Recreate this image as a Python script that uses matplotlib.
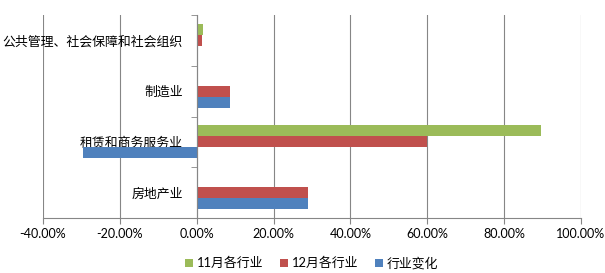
import matplotlib.pyplot as plt
import numpy as np
from matplotlib.ticker import FuncFormatter, FixedLocator

plt.rcParams['font.family'] = ['Lato', 'Noto Sans CJK SC', 'DejaVu Sans']

# categories from bottom to top
categories = ['房地产业', '租赁和商务服务业', '制造业', '公共管理、社会保障和社会组织']
nov = [0.0, 89.5, 0.0, 1.6]       # 11月各行业 (%)
dec = [29.0, 60.0, 8.6, 1.4]      # 12月各行业 (%)
change = [29.0, -29.5, 8.6, 0.0]  # 行业变化 (%)
series_names = ['11月各行业', '12月各行业', '行业变化']
colors = ['#9BBB59', '#C0504D', '#4F81BD']
xticks = [-40, -20, 0, 20, 40, 60, 80, 100]

fig = plt.figure(figsize=(6.05, 2.73), dpi=100)
ax = fig.add_axes([43 / 605, 1 - 218 / 273, (581 - 43) / 605, (218 - 15) / 273])

y = np.arange(len(categories))
h = 0.217
ax.barh(y + h, nov, height=h, color=colors[0], label=series_names[0])
ax.barh(y, dec, height=h, color=colors[1], label=series_names[1])
ax.barh(y - h, change, height=h, color=colors[2], label=series_names[2])

ax.set_xlim(-40, 100)
ax.set_ylim(-0.5, len(categories) - 0.5)
ax.set_xticks(xticks)
ax.xaxis.set_major_formatter(FuncFormatter(lambda v, p: '%.2f%%' % v))
ax.grid(axis='x', color='#868686', linewidth=0.8)
ax.set_axisbelow(True)

# y axis sits at x = 0, category boundaries as tick marks
ax.spines['left'].set_position(('data', 0))
ax.spines['left'].set_color('#868686')
ax.spines['bottom'].set_color('#868686')
ax.spines['top'].set_visible(False)
ax.spines['right'].set_visible(False)
ax.set_yticks(y)
ax.set_yticklabels(categories, fontsize=9.3)
ax.yaxis.set_minor_locator(FixedLocator(np.arange(-0.5, len(categories), 1.0)))
ax.tick_params(axis='y', which='major', length=0, pad=10)
ax.tick_params(axis='y', which='minor', length=4, direction='out', color='#868686')
ax.tick_params(axis='x', length=4, color='#868686', labelsize=9, pad=3, labelcolor='black')

fig.legend(loc='center', bbox_to_anchor=(0.515, 0.037), ncol=3, frameon=False,
           fontsize=9.3, handlelength=0.6, handleheight=0.6, handletextpad=0.3,
           columnspacing=1.3)

fig.savefig('out.png', dpi=100)
